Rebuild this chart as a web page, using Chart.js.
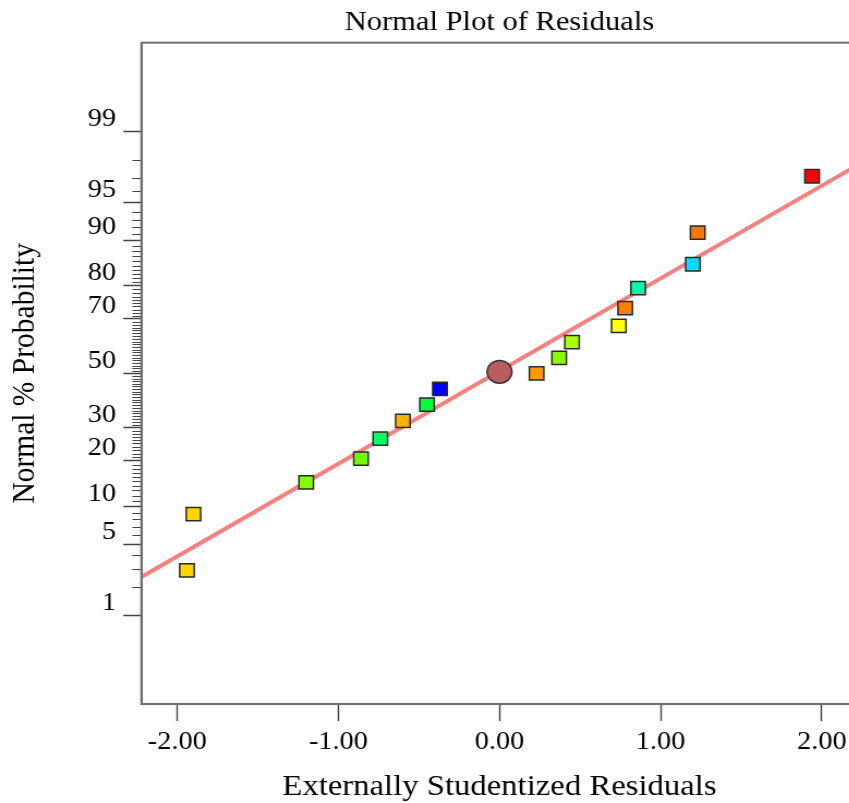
<!DOCTYPE html>
<html>
<head>
<meta charset="utf-8">
<title>Normal Plot of Residuals</title>
<script src="https://cdn.jsdelivr.net/npm/chart.js@4.4.1/dist/chart.umd.min.js"></script>
<style>
  html, body { margin: 0; padding: 0; background: #fff; overflow: hidden; }
  #wrap { width: 849px; height: 803px; overflow: hidden; }
  /* the reference picture is a little wider than tall, so stretch the canvas the same way */
  #plot { transform: scaleX(1.09); transform-origin: 0 0; }
</style>
</head>
<body>
<div id="wrap"><canvas id="plot" width="800" height="803"></canvas></div>
<script>
// ===================================
// DATA
// ===================================
// externally studentized residuals, in run order of the normal plot
const residuals = [-1.94, -1.90, -1.20, -0.86, -0.74, -0.60, -0.45, -0.37,
                   0.23, 0.37, 0.45, 0.74, 0.78, 0.86, 1.20, 1.23, 1.94];
// normal % probability of each point
const probabilities = [2.9, 8.8, 14.7, 20.6, 26.5, 32.4, 38.2, 44.1,
                       50.0, 55.9, 61.8, 67.6, 73.5, 79.4, 85.3, 91.2, 97.1];
// marker colour of each point
const pointColors = ['#ffd400', '#ffd400', '#80ff00', '#70ff00', '#00ff66', '#ffb000',
                     '#00ff33', '#0000ff', '#ff9900', '#88ff00', '#aaff00', '#ffff00',
                     '#ff8000', '#00ffaa', '#00ddff', '#ff7700', '#ff0000'];

// centre marker (circle)
const centerX = [0.0];
const centerP = [50.6];

// fitted reference line, two ends
const lineX = [-2.223, 2.222];
const lineP = [2.51, 97.74];

// axis ticks
const xTicks = [-2, -1, 0, 1, 2];
const yMajorLevels = [1, 5, 10, 20, 30, 50, 70, 80, 90, 95, 99];
const yMajorLabels = ['1', '5', '10', '20', '30', '50', '70', '80', '90', '95', '99'];
const yMinorLevels = [];
for (let p = 2; p <= 98; p++) {
    if (!yMajorLevels.includes(p)) yMinorLevels.push(p);
}

// ===================================
// HELPERS
// ===================================
// inverse of the standard normal cdf (Acklam), used as the probability-axis transform
function probit(p) {
    const a = [-3.969683028665376e+01, 2.209460984245205e+02, -2.759285104469687e+02,
               1.383577518672690e+02, -3.066479806614716e+01, 2.506628277459239e+00];
    const b = [-5.447609879822406e+01, 1.615858368580409e+02, -1.556989798598866e+02,
               6.680131188771972e+01, -1.328068155288572e+01];
    const c = [-7.784894002430293e-03, -3.223964580411365e-01, -2.400758277161838e+00,
               -2.549732539343734e+00, 4.374664141464968e+00, 2.938163982698783e+00];
    const d = [7.784695709041462e-03, 3.224671290700398e-01, 2.445134137142996e+00,
               3.754408661907416e+00];
    const pl = 0.02425;
    let q, r;
    if (p < pl) {
        q = Math.sqrt(-2 * Math.log(p));
        return (((((c[0] * q + c[1]) * q + c[2]) * q + c[3]) * q + c[4]) * q + c[5]) /
               ((((d[0] * q + d[1]) * q + d[2]) * q + d[3]) * q + 1);
    }
    if (p > 1 - pl) {
        q = Math.sqrt(-2 * Math.log(1 - p));
        return -(((((c[0] * q + c[1]) * q + c[2]) * q + c[3]) * q + c[4]) * q + c[5]) /
                ((((d[0] * q + d[1]) * q + d[2]) * q + d[3]) * q + 1);
    }
    q = p - 0.5;
    r = q * q;
    return (((((a[0] * r + a[1]) * r + a[2]) * r + a[3]) * r + a[4]) * r + a[5]) * q /
           (((((b[0] * r + b[1]) * r + b[2]) * r + b[3]) * r + b[4]) * r + 1);
}

const toPoints = (xs, ps) => xs.map((x, i) => ({ x: x, y: probit(ps[i] / 100) }));

const serif = "'Liberation Serif', 'Times New Roman', serif";
const frameColor = '#707070';

// short minor ticks on the probability axis + frame round the plot
const frameAndMinorTicks = {
    id: 'frameAndMinorTicks',
    afterDraw(chart) {
        const { ctx, chartArea: a } = chart;
        const y = chart.scales.y;
        ctx.save();
        ctx.strokeStyle = '#444';
        ctx.lineWidth = 1;
        yMinorLevels.forEach(p => {
            const py = Math.round(y.getPixelForValue(probit(p / 100))) + 0.5;
            ctx.beginPath();
            ctx.moveTo(a.left - 8.3, py);
            ctx.lineTo(a.left, py);
            ctx.stroke();
        });
        ctx.strokeStyle = frameColor;
        ctx.lineWidth = 2;
        ctx.strokeRect(a.left, a.top, a.right - a.left, a.bottom - a.top);
        ctx.restore();
    }
};

// ===================================
// CHART
// ===================================
Chart.defaults.font.family = serif;
Chart.defaults.color = '#000';

new Chart(document.getElementById('plot').getContext('2d'), {
    type: 'scatter',
    data: {
        datasets: [{
            label: 'Residuals',
            data: toPoints(residuals, probabilities),
            pointStyle: 'rect',
            pointRadius: 9.4,
            pointHoverRadius: 9.4,
            backgroundColor: pointColors,
            borderColor: '#2a2a2a',
            borderWidth: 1.5
        }, {
            label: 'Centre',
            data: toPoints(centerX, centerP),
            pointStyle: 'circle',
            pointRadius: 11.4,
            pointHoverRadius: 11.4,
            backgroundColor: '#b85c5c',
            borderColor: '#333',
            borderWidth: 1.5
        }, {
            label: 'Fit',
            data: toPoints(lineX, lineP),
            showLine: true,
            pointRadius: 0,
            borderColor: '#f78080',
            borderWidth: 4,
            fill: false
        }]
    },
    options: {
        responsive: false,
        animation: false,
        devicePixelRatio: 1,
        layout: { padding: { left: 0, right: 13.3, top: 0, bottom: 0 } },
        plugins: {
            legend: { display: false },
            tooltip: { enabled: false },
            title: { display: false }
        },
        scales: {
            x: {
                type: 'linear',
                position: 'bottom',
                min: -2.223,
                max: 2.222,
                afterBuildTicks: axis => { axis.ticks = xTicks.map(v => ({ value: v })); },
                afterFit: axis => { axis.height = 99; },
                ticks: {
                    callback: v => v.toFixed(2),
                    font: { family: serif, size: 26 },
                    color: '#000',
                    padding: 6,
                    maxRotation: 0,
                    autoSkip: false
                },
                grid: { drawOnChartArea: false, tickLength: 17, tickColor: '#444', tickWidth: 1.4 },
                border: { color: frameColor, width: 2 },
                title: {
                    display: true,
                    text: 'Externally Studentized Residuals',
                    color: '#000',
                    font: { family: serif, size: 30, lineHeight: 1 },
                    padding: { top: 0, bottom: 1 }
                }
            },
            // top axis only carries the chart title, centred over the plot
            top: {
                type: 'linear',
                position: 'top',
                afterFit: axis => { axis.height = 42.7; },
                ticks: { display: false },
                grid: { display: false },
                border: { display: false },
                title: {
                    display: true,
                    text: 'Normal Plot of Residuals',
                    color: '#000',
                    font: { family: serif, size: 28, lineHeight: 1.2 },
                    padding: { top: 5.5, bottom: 0 }
                }
            },
            y: {
                type: 'linear',
                position: 'left',
                min: -3.18,
                max: 3.18,
                afterBuildTicks: axis => {
                    axis.ticks = yMajorLevels.map(p => ({ value: probit(p / 100) }));
                },
                afterFit: axis => { axis.width = 129.7; },
                ticks: {
                    callback: (v, i) => yMajorLabels[i],
                    font: { family: serif, size: 26 },
                    color: '#000',
                    padding: 6.7,
                    labelOffset: -12.5,
                    autoSkip: false
                },
                grid: { drawOnChartArea: false, tickLength: 16.5, tickColor: '#444', tickWidth: 1.5 },
                border: { color: frameColor, width: 2 },
                title: {
                    display: true,
                    text: 'Normal % Probability',
                    color: '#000',
                    font: { family: serif, size: 29.5, lineHeight: 1.2 },
                    padding: { top: 5.5, bottom: 0 }
                }
            }
        }
    },
    plugins: [frameAndMinorTicks]
});
</script>
</body>
</html>
